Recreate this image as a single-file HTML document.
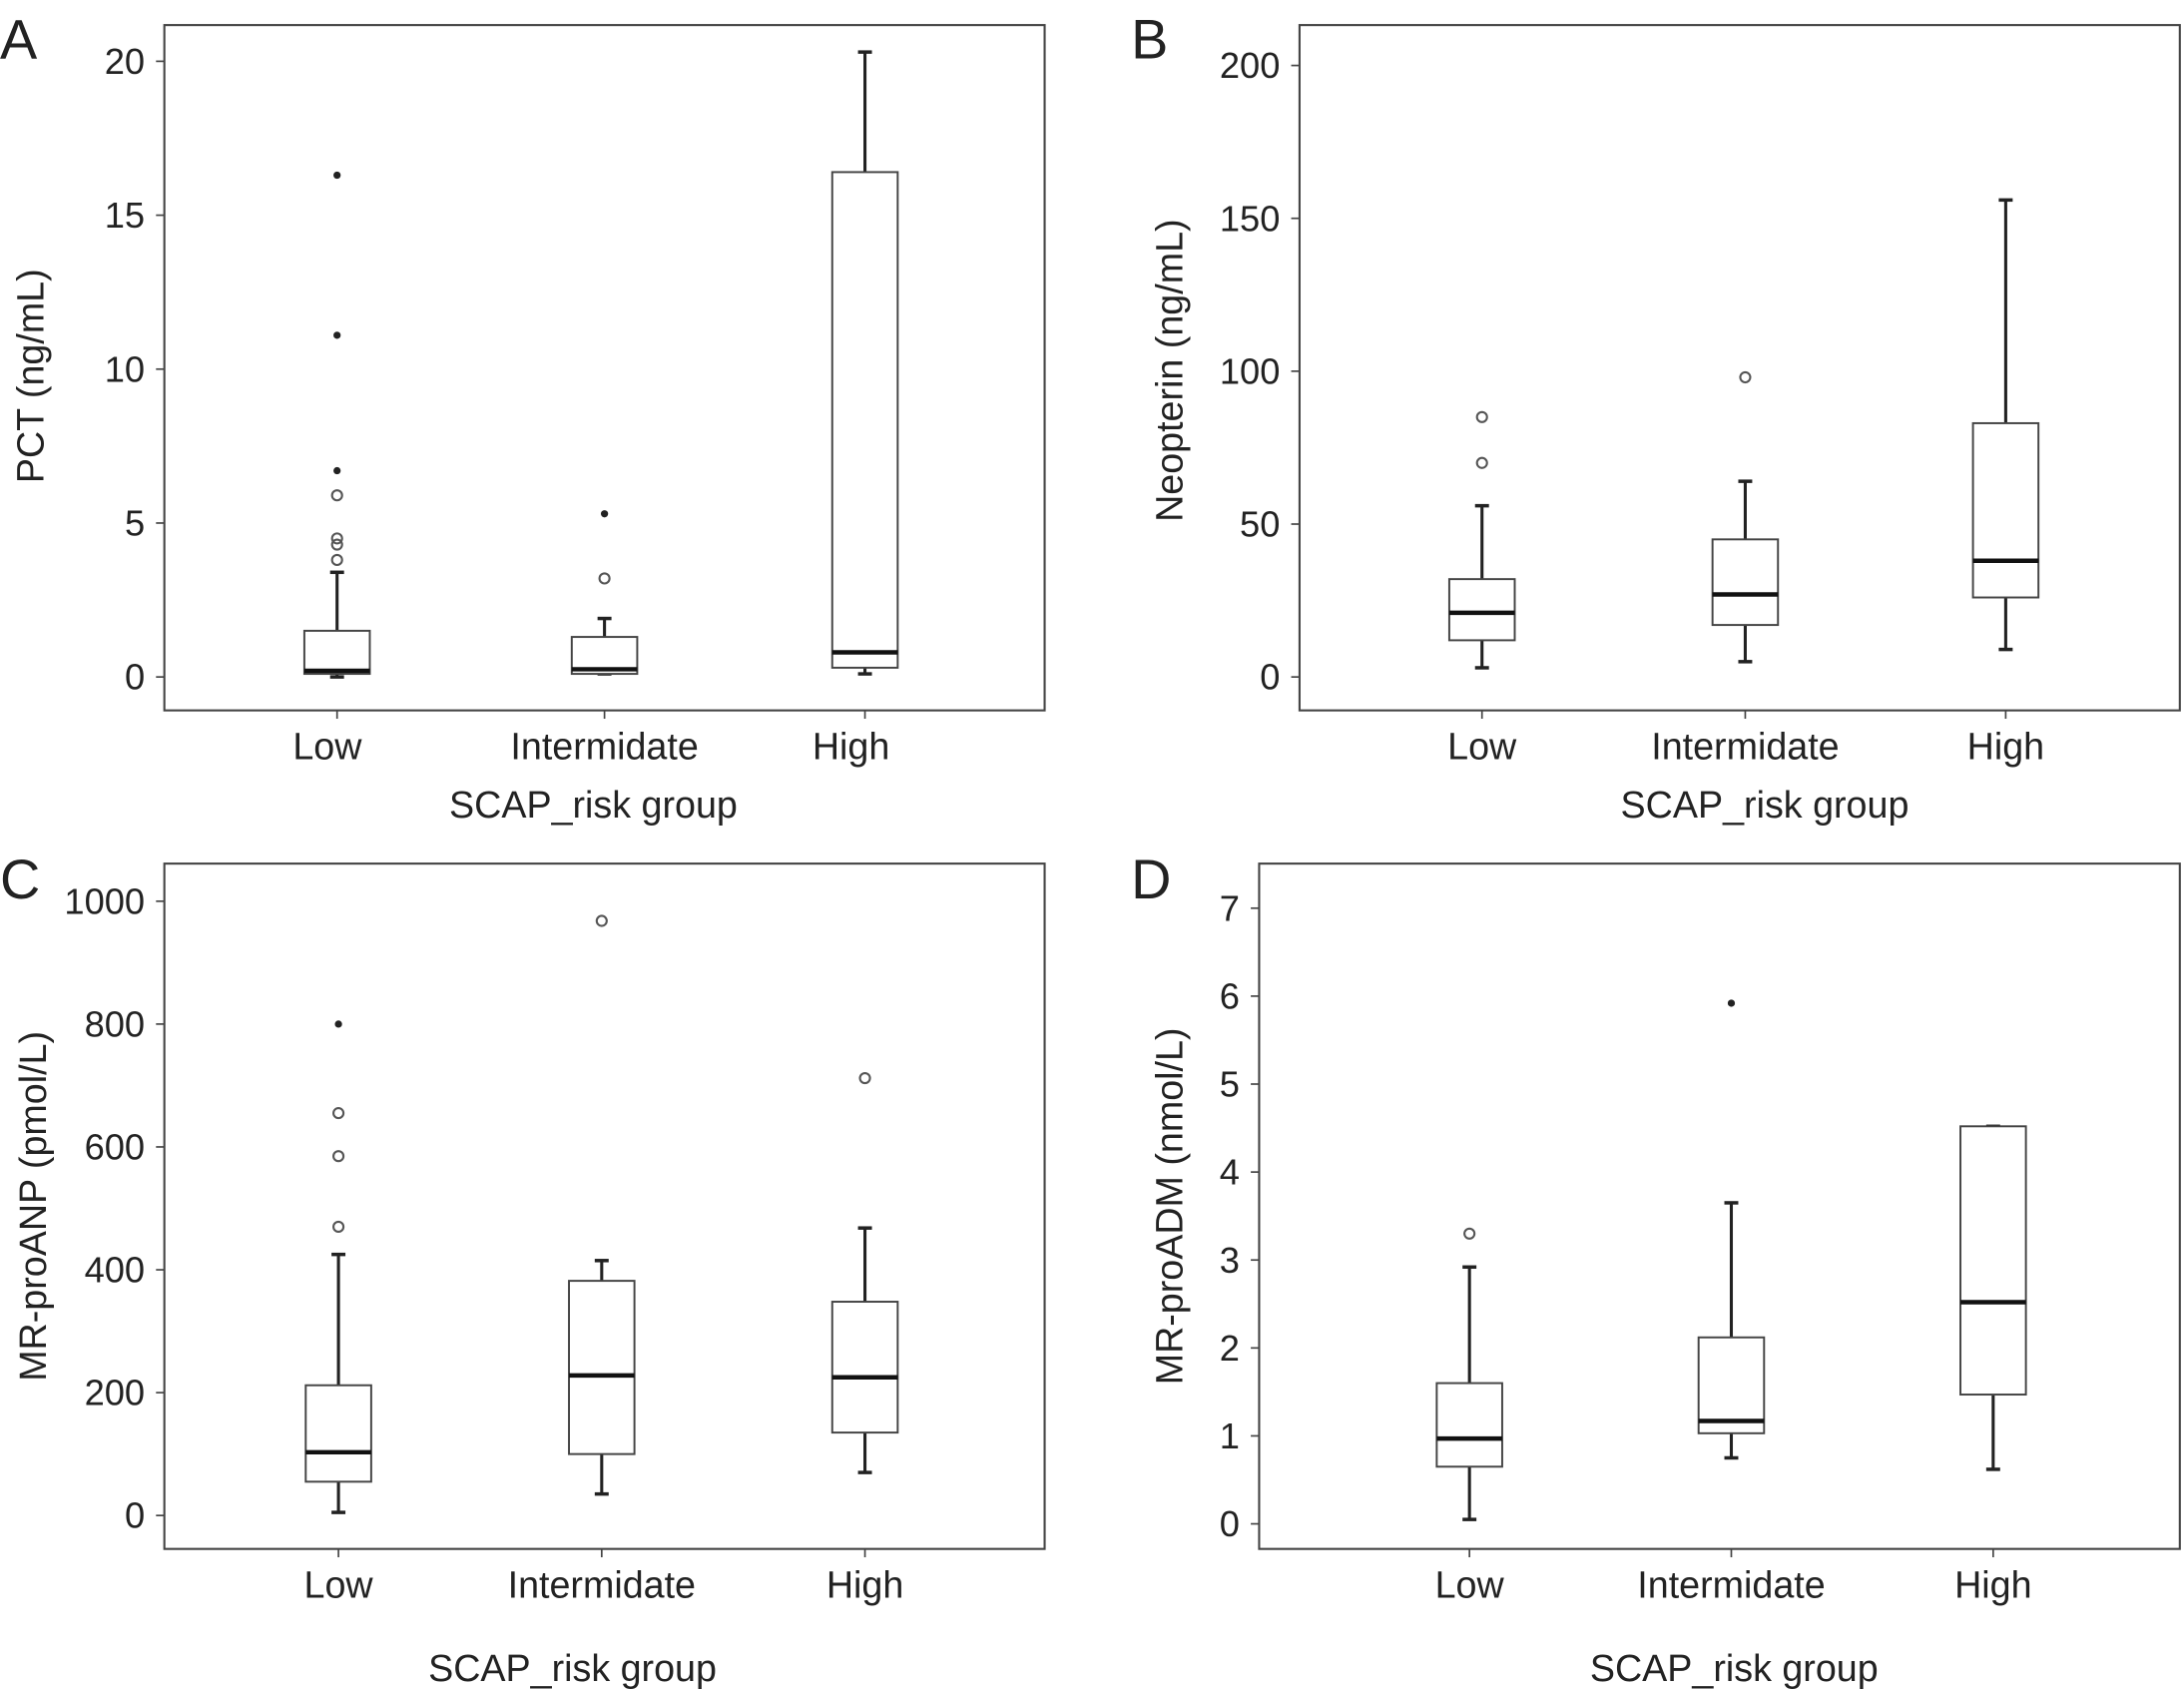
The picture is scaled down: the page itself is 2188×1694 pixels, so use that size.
<!DOCTYPE html>
<html><head><meta charset="utf-8"><style>
html,body{margin:0;padding:0;background:#fff;}
svg{display:block;}
text{font-family:"Liberation Sans",sans-serif;fill:#222;}
</style></head><body>
<svg id="fig" width="2188" height="1694" viewBox="0 0 1568 1214" preserveAspectRatio="none" xmlns="http://www.w3.org/2000/svg"></svg>
<script>
const categories = ["Low","Intermidate","High"];
// Panel A: PCT
const pctMin=[0,0.1,0.1], pctQ1=[0.1,0.1,0.3], pctMed=[0.2,0.25,0.8], pctQ3=[1.5,1.3,16.4], pctMax=[3.4,1.9,20.3];
const pctCircles=[[3.8,4.3,4.5,5.9],[3.2],[]], pctStars=[[6.7,11.1,16.3],[5.3],[]];
const pctTicks=[0,5,10,15,20];
// Panel B: Neopterin
const neoMin=[3,5,9], neoQ1=[12,17,26], neoMed=[21,27,38], neoQ3=[32,45,83], neoMax=[56,64,156];
const neoCircles=[[70,85],[98],[]], neoStars=[[],[],[]];
const neoTicks=[0,50,100,150,200];
// Panel C: MR-proANP
const anpMin=[5,35,70], anpQ1=[55,100,135], anpMed=[103,228,225], anpQ3=[212,382,348], anpMax=[425,415,468];
const anpCircles=[[470,585,655],[968],[712]], anpStars=[[800],[],[]];
const anpTicks=[0,200,400,600,800,1000];
// Panel D: MR-proADM
const admMin=[0.05,0.75,0.62], admQ1=[0.65,1.03,1.47], admMed=[0.97,1.17,2.52], admQ3=[1.6,2.12,4.52], admMax=[2.92,3.65,4.52];
const admCircles=[[3.3],[],[]], admStars=[[],[5.92],[]];
const admTicks=[0,1,2,3,4,5,6,7];

const NS="http://www.w3.org/2000/svg";
const svg=document.getElementById('fig');
function mk(tag,attrs,parent){const e=document.createElementNS(NS,tag);for(const k in attrs)e.setAttribute(k,attrs[k]);(parent||svg).appendChild(e);return e;}

function panel(p){
  const g=mk('g',{});
  
  
  const yS=v=>p.y0-(v-p.t0)*(p.y0-p.yT)/(p.t1-p.t0);
  const lt=mk('text',{x:p.lx,y:p.ly,'font-size':40},g);lt.textContent=p.letter;
  
  
  const fr=mk('rect',{x:p.L,y:p.T,width:p.R-p.L,height:p.B-p.T,fill:'none',stroke:'#444','stroke-width':1.5},g);
  
  
  p.ticks.forEach(t=>{
    const y=yS(t);
    mk('line',{x1:p.L-6,x2:p.L,y1:y,y2:y,stroke:'#444','stroke-width':1.2},g);
    const tx=mk('text',{x:p.L-14,y:y+9,'font-size':26,'text-anchor':'end'},g);tx.textContent=t;
    
    
  });
  categories.forEach((c,i)=>{
    const x=p.xs[i];
    mk('line',{x1:x,x2:x,y1:p.B,y2:p.B+6,stroke:'#444','stroke-width':1.2},g);
    const tx=mk('text',{x:p.lxs[i],y:p.B+35,'font-size':27,'text-anchor':'middle'},g);tx.textContent=c;
    
    
    const w=47;
    const wl=mk('line',{x1:x,x2:x,y1:yS(p.mn[i]),y2:yS(p.q1[i]),stroke:'#222','stroke-width':2.2},g);
    
    
    const wh=mk('line',{x1:x,x2:x,y1:yS(p.q3[i]),y2:yS(p.mx[i]),stroke:'#222','stroke-width':2.2},g);
    
    
    [p.mn[i],p.mx[i]].forEach(v=>{mk('line',{x1:x-5,x2:x+5,y1:yS(v),y2:yS(v),stroke:'#222','stroke-width':2.5},g);});
    const bx=mk('rect',{x:x-w/2,y:yS(p.q3[i]),width:w,height:yS(p.q1[i])-yS(p.q3[i]),fill:'#fff',stroke:'#444','stroke-width':1.4},g);
    
    
    const md=mk('line',{x1:x-w/2,x2:x+w/2,y1:yS(p.md[i]),y2:yS(p.md[i]),stroke:'#111','stroke-width':3.2},g);
    
    
    p.circ[i].forEach(v=>{const o=mk('circle',{cx:x,cy:yS(v),r:3.6,fill:'none',stroke:'#555','stroke-width':1.5},g);
      
      });
    p.star[i].forEach(v=>{const o=mk('circle',{cx:x,cy:yS(v),r:2.6,fill:'#222'},g);
      
      });
  });
  const xt=mk('text',{x:p.xtx,y:p.xty,'font-size':27,'text-anchor':'middle'},g);xt.textContent='SCAP_risk group';
  
  
  const cy=p.ytc;
  const yt=mk('text',{x:p.ytx,y:cy,'font-size':27,'text-anchor':'middle',transform:`rotate(-90 ${p.ytx} ${cy})`},g);yt.textContent=p.ytitle;
  
  
}

panel({key:'a',letter:'A',lx:0,ly:42,L:118,R:750,T:18,B:510,y0:486,yT:44,t0:0,t1:20,ticks:pctTicks,xs:[242,434,621],lxs:[235,434,611],
 mn:pctMin,q1:pctQ1,md:pctMed,q3:pctQ3,mx:pctMax,circ:pctCircles,star:pctStars,xtx:426,xty:587,ytx:31,ytc:270,ytitle:'PCT (ng/mL)'});
panel({key:'b',letter:'B',lx:812,ly:42,L:933,R:1565,T:18,B:510,y0:486,yT:47,t0:0,t1:200,ticks:neoTicks,xs:[1064,1253,1440],lxs:[1064,1253,1440],
 mn:neoMin,q1:neoQ1,md:neoMed,q3:neoQ3,mx:neoMax,circ:neoCircles,star:neoStars,xtx:1267,xty:587,ytx:849,ytc:266,ytitle:'Neopterin (ng/mL)'});
panel({key:'c',letter:'C',lx:0,ly:645,L:118,R:750,T:620,B:1112,y0:1088,yT:647,t0:0,t1:1000,ticks:anpTicks,xs:[243,432,621],lxs:[243,432,621],
 mn:anpMin,q1:anpQ1,md:anpMed,q3:anpQ3,mx:anpMax,circ:anpCircles,star:anpStars,xtx:411,xty:1207,ytx:33,ytc:866,ytitle:'MR-proANP (pmol/L)'});
panel({key:'d',letter:'D',lx:812,ly:645,L:904,R:1565,T:620,B:1112,y0:1094,yT:652,t0:0,t1:7,ticks:admTicks,xs:[1055,1243,1431],lxs:[1055,1243,1431],
 mn:admMin,q1:admQ1,md:admMed,q3:admQ3,mx:admMax,circ:admCircles,star:admStars,xtx:1245,xty:1207,ytx:849,ytc:866,ytitle:'MR-proADM (nmol/L)'});
</script>
</body></html>
